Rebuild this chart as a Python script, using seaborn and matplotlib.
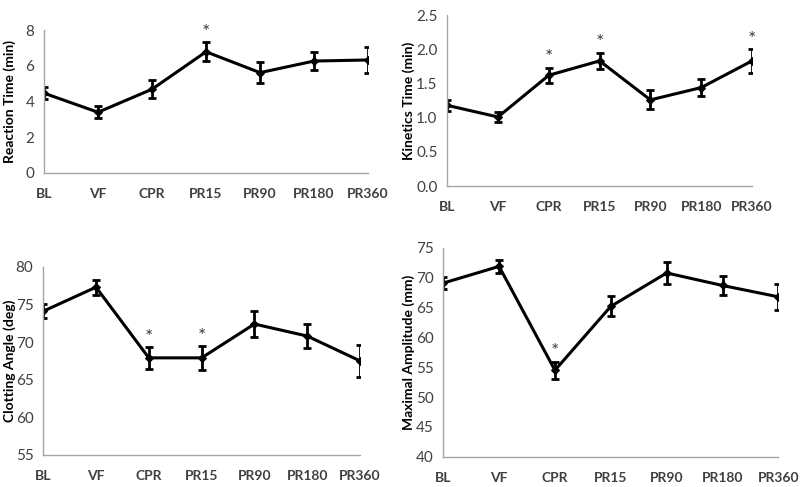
import matplotlib
matplotlib.use("Agg")
import matplotlib.pyplot as plt
import numpy as np
import pandas as pd
import seaborn as sns

# -----------------------------
# Data
# -----------------------------
timepoints = ["BL", "VF", "CPR", "PR15", "PR90", "PR180", "PR360"]

reaction_mean = [4.47, 3.40, 4.69, 6.79, 5.62, 6.27, 6.33]
reaction_err = [0.32, 0.34, 0.50, 0.53, 0.57, 0.52, 0.72]
reaction_sig = ["PR15"]

kinetics_mean = [1.18, 1.01, 1.62, 1.83, 1.26, 1.44, 1.83]
kinetics_err = [0.085, 0.08, 0.11, 0.12, 0.14, 0.13, 0.17]
kinetics_sig = ["CPR", "PR15", "PR360"]

angle_mean = [74.1, 77.3, 67.9, 67.9, 72.4, 70.8, 67.5]
angle_err = [0.95, 1.0, 1.45, 1.55, 1.75, 1.65, 2.1]
angle_sig = ["CPR", "PR15"]

amplitude_mean = [69.1, 71.9, 54.5, 65.2, 70.8, 68.7, 66.8]
amplitude_err = [1.05, 1.06, 1.45, 1.67, 1.8, 1.67, 2.2]
amplitude_sig = ["CPR"]

panels = [
    ("Reaction Time (min)", reaction_mean, reaction_err, reaction_sig,
     (0, 8), [0, 2, 4, 6, 8], "{:.0f}", [0.055, 0.645, 0.405, 0.293], -0.085),
    ("Kinetics Time (min)", kinetics_mean, kinetics_err, kinetics_sig,
     (0, 2.5), [0, 0.5, 1.0, 1.5, 2.0, 2.5], "{:.1f}", [0.559, 0.618, 0.381, 0.351], -0.105),
    ("Clotting Angle (deg)", angle_mean, angle_err, angle_sig,
     (55, 80), [55, 60, 65, 70, 75, 80], "{:.0f}", [0.054, 0.066, 0.396, 0.386], -0.085),
    ("Maximal Amplitude (mm)", amplitude_mean, amplitude_err, amplitude_sig,
     (40, 75), [40, 45, 50, 55, 60, 65, 70, 75], "{:.0f}", [0.554, 0.062, 0.419, 0.429], -0.085),
]

# -----------------------------
# Plot
# -----------------------------
sns.set_style("white")
plt.rcParams["font.family"] = ["Lato", "DejaVu Sans"]

fig = plt.figure(figsize=(8, 4.87), dpi=100)
grey = "#a6a6a6"

for label, mean, err, sig, ylim, yticks, fmt, pos, labx in panels:
    ax = fig.add_axes(pos)
    df = pd.DataFrame({"time": timepoints, "value": mean, "err": err})

    sns.lineplot(data=df, x="time", y="value", sort=False, ax=ax,
                 color="black", linewidth=2.2, marker="D", markersize=4,
                 markeredgecolor="black")
    ax.errorbar(df["time"], df["value"], yerr=df["err"], fmt="none",
                ecolor="black", elinewidth=2.0, capsize=3, capthick=2.0)

    # significance markers
    for t, m, e in zip(timepoints, mean, err):
        if t in sig:
            ax.annotate("*", xy=(t, m + e), xytext=(0, 1), textcoords="offset points",
                        ha="center", va="bottom", fontsize=14, color="#404040")

    ax.set_xlim(0, len(timepoints) - 1)
    ax.set_ylim(*ylim)
    ax.set_yticks(yticks)
    ax.set_yticklabels([fmt.format(v) for v in yticks])
    ax.set_xlabel("")
    ax.set_ylabel(label, fontsize=10, fontweight="bold", color="black")
    ax.yaxis.set_label_coords(labx, 0.5)

    sns.despine(ax=ax)
    for s in ["left", "bottom"]:
        ax.spines[s].set_color(grey)
        ax.spines[s].set_linewidth(1.0)
    ax.tick_params(axis="x", direction="out", length=5, width=1, color=grey,
                   labelsize=10, labelcolor="#404040", pad=6)
    ax.tick_params(axis="y", direction="out", length=4, width=1, color=grey,
                   labelsize=11, labelcolor="#404040", pad=3)
    for t in ax.get_xticklabels():
        t.set_fontweight("bold")

fig.savefig("out.png", dpi=100)
plt.close(fig)
